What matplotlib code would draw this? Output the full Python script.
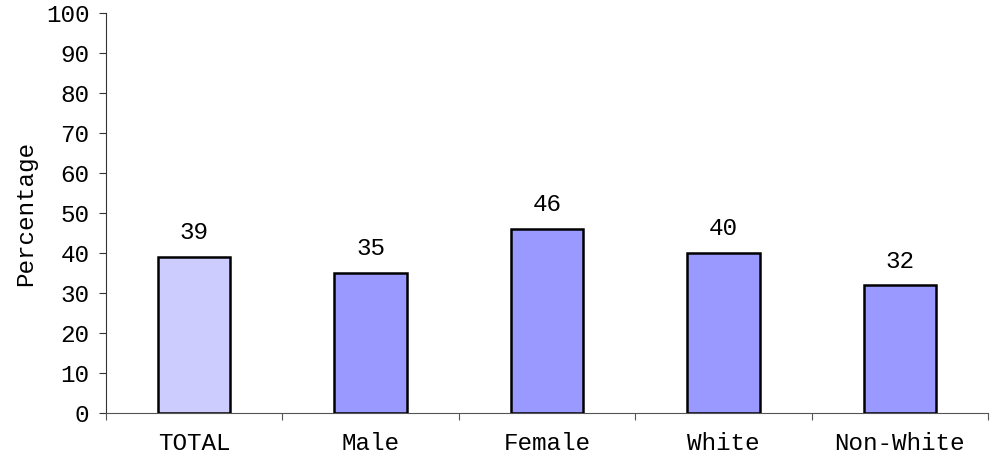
import matplotlib

matplotlib.use("Agg")

import matplotlib.pyplot as plt
import numpy as np

categories = ["TOTAL", "Male", "Female", "White", "Non-White"]
values = [39, 35, 46, 40, 32]
bar_colors = ["#CCCCFF", "#9999FF", "#9999FF", "#9999FF", "#9999FF"]
y_ticks = list(range(0, 101, 10))

plt.rcParams["font.family"] = ["Liberation Mono", "DejaVu Sans Mono"]
FS = 17.5

fig = plt.figure(figsize=(9.92, 4.59), dpi=100)
ax = fig.add_axes([106 / 992, 46 / 459, 882 / 992, 400 / 459])

x = np.arange(len(categories))
ax.bar(x, values, width=0.41, color=bar_colors, edgecolor="black", linewidth=1.8, zorder=3)

for xi, v in zip(x, values):
    ax.annotate(str(v), (xi, v), xytext=(0, 9), textcoords="offset points",
                ha="center", va="bottom", fontsize=FS)

ax.set_xlim(-0.5, len(categories) - 0.5)
ax.set_ylim(0, 100)
ax.set_yticks(y_ticks)
ax.set_xticks(x)
ax.set_xticklabels(categories)
ax.set_xticks(np.arange(-0.5, len(categories)), minor=True)
ax.tick_params(axis="x", which="major", length=0, pad=14, labelsize=FS)
ax.tick_params(axis="x", which="minor", length=5, width=0.8, direction="out", color="#555555")
ax.tick_params(axis="y", length=5, width=0.8, pad=7, labelsize=FS, color="#333333")
ax.set_ylabel("Percentage", fontsize=FS, labelpad=6)

ax.spines["top"].set_visible(False)
ax.spines["right"].set_visible(False)
ax.spines["left"].set_color("#333333")
ax.spines["bottom"].set_color("#555555")
ax.spines["left"].set_linewidth(0.8)
ax.spines["bottom"].set_linewidth(0.8)

fig.savefig("out.png", dpi=100)
